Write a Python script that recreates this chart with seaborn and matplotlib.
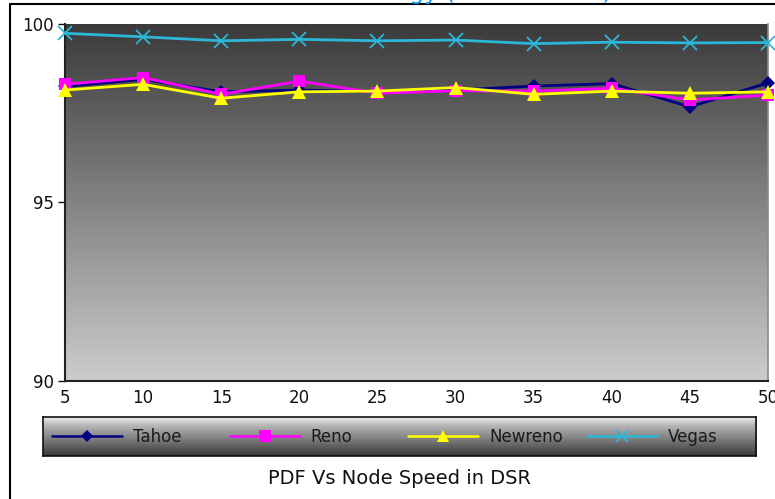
import numpy as np
import pandas as pd
import matplotlib
matplotlib.use("Agg")
import matplotlib.pyplot as plt
from matplotlib.lines import Line2D
from matplotlib.legend import Legend
import seaborn as sns

# Node speed (x axis) and packet delivery fraction (%) per TCP variant
speed = [5, 10, 15, 20, 25, 30, 35, 40, 45, 50]
tahoe = [98.25, 98.45, 98.10, 98.15, 98.10, 98.15, 98.26, 98.33, 97.68, 98.35]
reno = [98.31, 98.50, 98.03, 98.40, 98.06, 98.13, 98.12, 98.20, 97.87, 98.01]
newreno = [98.15, 98.31, 97.92, 98.10, 98.12, 98.22, 98.03, 98.12, 98.06, 98.10]
vegas = [99.74, 99.64, 99.53, 99.57, 99.53, 99.55, 99.45, 99.49, 99.47, 99.48]

x_ticks = [5, 10, 15, 20, 25, 30, 35, 40, 45, 50]
y_ticks = [90, 95, 100]
caption = "PDF Vs Node Speed in DSR"
header = "Strategy (TCP Variants)"

series = {
    "Tahoe": (tahoe, "#000080", "D", 7),
    "Reno": (reno, "#ff00ff", "s", 9),
    "Newreno": (newreno, "#ffff00", "^", 10),
    "Vegas": (vegas, "#2bb8d8", "x", 10),
}

sns.set_theme(style="white")
plt.rcParams["font.family"] = ["DejaVu Sans"]

fig = plt.figure(figsize=(7.75, 4.99), dpi=100)
ax = fig.add_axes([65 / 775, 1 - 381 / 499, 703 / 775, 357 / 499])

# vertical grey gradient behind the plot
grad = np.linspace(0.23, 0.80, 256)[:, None]
ax.imshow(grad, extent=[5, 50, 90, 100], origin="upper", aspect="auto",
          cmap="gray", vmin=0, vmax=1, zorder=0, interpolation="bicubic")

for name, (vals, color, marker, ms) in series.items():
    df = pd.DataFrame({"speed": speed, "pdf": vals})
    mew = 1.3 if marker == "x" else 0
    sns.lineplot(data=df, x="speed", y="pdf", ax=ax, color=color, lw=2,
                 marker=marker, markersize=ms, markeredgewidth=mew,
                 markeredgecolor=color, label=name, legend=False,
                 clip_on=False, zorder=3)

ax.set_xlim(5, 50)
ax.set_ylim(90, 100)
ax.set_xticks(x_ticks)
ax.set_yticks(y_ticks)
ax.set_xlabel("")
ax.set_ylabel("")
ax.tick_params(axis="x", length=0, pad=6, labelsize=12, colors="#111111")
ax.tick_params(axis="y", length=5, width=1, pad=3, labelsize=12,
               colors="#111111", left=True)
for side in ("left", "bottom"):
    ax.spines[side].set_color("#222222")
    ax.spines[side].set_linewidth(1.5)
ax.spines["right"].set_color("#8a8a8a")
ax.spines["right"].set_linewidth(1.2)
ax.spines["top"].set_visible(False)

# legend strip with its own metallic gradient
lax = fig.add_axes([43 / 775, 1 - 456 / 499, 713 / 775, 39 / 499])
lgrad = np.concatenate([np.linspace(0.93, 0.70, 30), np.linspace(0.70, 0.22, 98)])[:, None]
lax.imshow(lgrad, extent=[0, 1, 0, 1], origin="upper", aspect="auto",
           cmap="gray", vmin=0, vmax=1, interpolation="bicubic")
lax.set_xticks([])
lax.set_yticks([])
for sp in lax.spines.values():
    sp.set_color("#111111")
    sp.set_linewidth(1.2)

handles, labels = ax.get_legend_handles_labels()
starts = [0.0126, 0.262, 0.512, 0.763]
for lab, xs in zip(labels, starts):
    vals, color, marker, ms = series[lab]
    proxy = Line2D([], [], color=color, lw=1.8, marker=marker,
                   markersize=ms * 0.9, markeredgewidth=1.2 if marker == "x" else 0,
                   markeredgecolor=color)
    leg = Legend(lax, [proxy], [lab], loc="center left", bbox_to_anchor=(xs, 0.5),
                 frameon=False, borderpad=0, borderaxespad=0,
                 handlelength=4.2, handletextpad=0.65, fontsize=12,
                 labelcolor="#1a1a1a")
    lax.add_artist(leg)

fig.text(399 / 775, 1 - 478 / 499, caption, ha="center", va="center",
         fontsize=14, color="#111111")
fig.text(612 / 775, 1 + 1.5 / 499, header, ha="right", va="baseline",
         fontsize=17, color="#1a9be6")

# outer frame lines
fig.add_artist(Line2D([10 / 775, 1], [1 - 4 / 499, 1 - 4 / 499],
                      transform=fig.transFigure, color="black", lw=1.5))
fig.add_artist(Line2D([10 / 775, 10 / 775], [0, 1 - 4 / 499],
                      transform=fig.transFigure, color="black", lw=1.5))

fig.savefig("out.png", dpi=100)
